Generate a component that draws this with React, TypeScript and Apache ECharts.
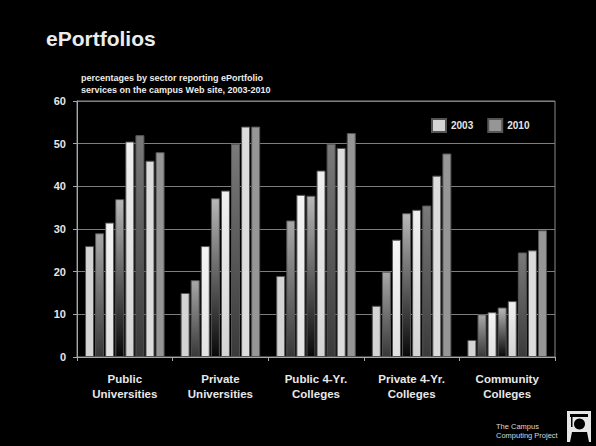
import React, { useEffect, useRef } from "react";
import * as echarts from "echarts";

const categories = [
  "Public\nUniversities",
  "Private\nUniversities",
  "Public 4-Yr.\nColleges",
  "Private 4-Yr.\nColleges",
  "Community\nColleges",
];
const years = ["2003", "2004", "2005", "2006", "2007", "2008", "2009", "2010"];
const y2003 = [26, 15, 19, 12, 4];
const y2004 = [29, 18, 32, 20, 10];
const y2005 = [31.5, 26, 38, 27.5, 10.5];
const y2006 = [37, 37.2, 37.8, 33.7, 11.6];
const y2007 = [50.5, 39, 43.7, 34.5, 13.1];
const y2008 = [52, 50, 50, 35.5, 24.5];
const y2009 = [46, 54, 49, 42.5, 25];
const y2010 = [48, 54, 52.5, 47.7, 29.7];
const yTicks = [0, 10, 20, 30, 40, 50, 60];

const FONT = "'Liberation Sans', Arial, sans-serif";

function grad(top: string, bottom: string) {
  return new echarts.graphic.LinearGradient(0, 0, 0, 1, [
    { offset: 0, color: top },
    { offset: 1, color: bottom },
  ]);
}

export default function App() {
  const ref = useRef<HTMLDivElement>(null);
  useEffect(() => {
    if (!ref.current) return;
    const chart = echarts.init(ref.current, null, { renderer: "svg" });
    const values = [y2003, y2004, y2005, y2006, y2007, y2008, y2009, y2010];
    const colors: any[] = [
      "#d4d4d4",
      grad("#a8a8a8", "#383838"),
      grad("#f4f4f4", "#e2e2e2"),
      grad("#b8b8b8", "#080808"),
      grad("#f0f0f0", "#d4d4d4"),
      grad("#7a7a7a", "#3a3a3a"),
      "#dcdcdc",
      "#969696",
    ];
    const series = years.map((y, i) => ({
      name: y,
      type: "bar",
      data: values[i],
      barWidth: 9,
      barGap: "12%",
      itemStyle: { color: colors[i], borderColor: "#555555", borderWidth: 1 },
    }));
    chart.setOption({
      animation: false,
      backgroundColor: "#000000",
      textStyle: { fontFamily: FONT },
      grid: {
        left: 77,
        right: 41,
        top: 101,
        bottom: 89,
        show: true,
        borderColor: "#8a8a8a",
        borderWidth: 1,
        backgroundColor: "transparent",
      },
      legend: {
        data: ["2003", "2010"],
        left: 426,
        top: 113,
        itemWidth: 14,
        itemHeight: 13,
        itemGap: 14,
        icon: "rect",
        textStyle: { color: "#e6e6e6", fontSize: 10, fontWeight: "bold", fontFamily: FONT },
      },
      xAxis: {
        type: "category",
        data: categories,
        axisLine: { lineStyle: { color: "#a8a8a8" } },
        axisTick: { show: true, length: 4, lineStyle: { color: "#a8a8a8" } },
        axisLabel: {
          interval: 0,
          color: "#e8e8e8",
          fontWeight: "bold",
          fontSize: 11.5,
          lineHeight: 15,
          margin: 14,
          fontFamily: FONT,
        },
      },
      yAxis: {
        type: "value",
        min: yTicks[0],
        max: yTicks[yTicks.length - 1],
        interval: 10,
        axisLine: { show: true, lineStyle: { color: "#a8a8a8" } },
        axisTick: { show: true, length: 4, lineStyle: { color: "#a8a8a8" } },
        splitLine: { lineStyle: { color: "#7e7e7e" } },
        axisLabel: {
          color: "#e6e6e6",
          fontWeight: "bold",
          fontSize: 11,
          margin: 11,
          fontFamily: FONT,
        },
      },
      series,
      graphic: [
        {
          type: "text",
          left: 46,
          top: 28,
          style: {
            text: "ePortfolios",
            fill: "#ececec",
            font: `bold 21px ${FONT}`,
          },
        },
        {
          type: "text",
          x: 81,
          y: 78,
          style: {
            text: "percentages by sector reporting ePortfolio",
            fill: "#ececec",
            font: `bold 9px ${FONT}`,
            verticalAlign: "middle",
          },
        },
        {
          type: "text",
          x: 81,
          y: 90,
          style: {
            text: "services on the campus Web site, 2003-2010",
            fill: "#ececec",
            font: `bold 9px ${FONT}`,
            verticalAlign: "middle",
          },
        },
        {
          type: "text",
          x: 496,
          y: 426,
          style: {
            text: "The Campus",
            fill: "#d8d8d8",
            font: `7.5px ${FONT}`,
            verticalAlign: "middle",
          },
        },
        {
          type: "text",
          x: 496,
          y: 435,
          style: {
            text: "Computing Project",
            fill: "#d8d8d8",
            font: `7.5px ${FONT}`,
            verticalAlign: "middle",
          },
        },
        {
          type: "group",
          children: [
            { type: "rect", shape: { x: 567, y: 411, width: 24, height: 31 }, style: { fill: "#e6e6e6" } },
            { type: "rect", shape: { x: 570, y: 414, width: 18, height: 3 }, style: { fill: "#000" } },
            { type: "rect", shape: { x: 571, y: 417, width: 1.5, height: 10 }, style: { fill: "#000" } },
            { type: "circle", shape: { cx: 579.5, cy: 424, r: 5.5 }, style: { fill: "#000" } },
            {
              type: "polygon",
              shape: { points: [[570, 442], [572, 432], [587, 432], [589, 442]] },
              style: { fill: "#000" },
            },
          ],
        },
      ],
    });
    return () => chart.dispose();
  }, []);
  return (
    <div
      ref={ref}
      style={{ position: "absolute", left: 0, top: 0, width: 596, height: 446 }}
    />
  );
}
